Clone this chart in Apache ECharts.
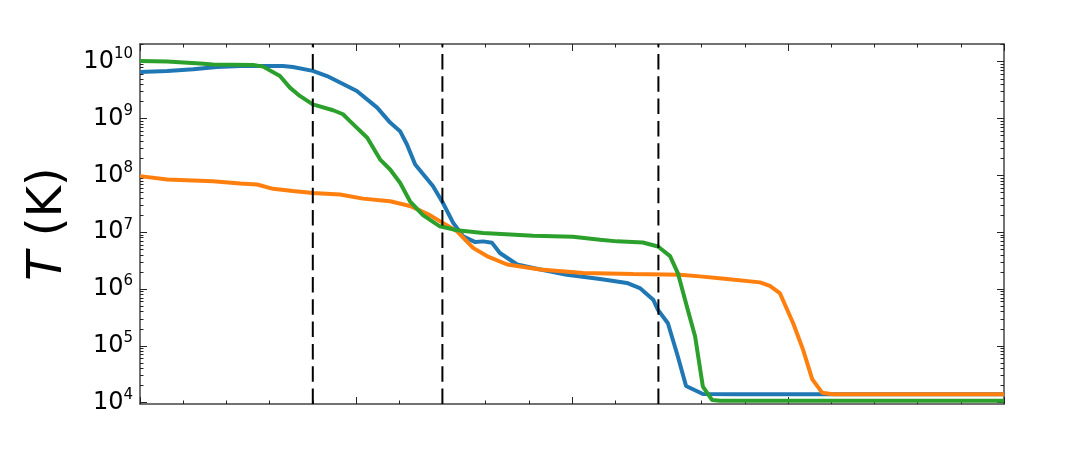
<!DOCTYPE html>
<html>
<head>
<meta charset="utf-8">
<script src="https://cdn.jsdelivr.net/npm/echarts@6/dist/echarts.min.js"></script>
<style>
html, body { margin: 0; padding: 0; background: #fff; }
#chart { width: 1080px; height: 450px; }
</style>
</head>
<body>
<div id="chart"></div>
<script>
// x position (arbitrary units, axis has no labels) and temperature in K
var blueX = [0, 0.63, 1.23, 1.78, 2.32, 3.31, 3.54, 4.0, 4.33, 4.63, 5.02, 5.49, 5.79, 6.02, 6.18, 6.37, 6.78, 7.01, 7.25, 7.48, 7.76, 7.94, 8.15, 8.33, 8.73, 9.1, 9.88, 10.65, 11.27, 11.57, 11.88, 11.99, 12.22, 12.45, 12.64, 13.03, 13.73, 20];
var blueT = [6.6e9, 6.9e9, 7.4e9, 8.1e9, 8.4e9, 8.4e9, 8.1e9, 6.9e9, 5.6e9, 4.3e9, 3.05e9, 1.56e9, 8.5e8, 6.0e8, 3.5e8, 1.56e8, 6.5e7, 3.3e7, 1.46e7, 8.5e6, 6.7e6, 6.9e6, 6.5e6, 4.3e6, 2.7e6, 2.35e6, 1.79e6, 1.5e6, 1.28e6, 1.04e6, 6.5e5, 4.3e5, 2.5e5, 6.5e4, 1.97e4, 1.42e4, 1.41e4, 1.41e4];

var orangeX = [0, 0.63, 1.69, 2.32, 2.71, 3.08, 3.54, 4.0, 4.63, 5.16, 5.79, 6.25, 6.71, 7.01, 7.34, 7.71, 8.03, 8.5, 9.26, 10.26, 11.41, 12.5, 12.96, 13.59, 14.35, 14.58, 14.81, 15.12, 15.35, 15.56, 15.79, 16.04, 20];
var orangeT = [9.7e7, 8.5e7, 7.9e7, 7.2e7, 6.9e7, 5.8e7, 5.3e7, 4.9e7, 4.6e7, 3.9e7, 3.5e7, 2.9e7, 2.0e7, 1.46e7, 1.04e7, 5.3e6, 3.8e6, 2.7e6, 2.2e6, 1.91e6, 1.84e6, 1.79e6, 1.67e6, 1.5e6, 1.31e6, 1.14e6, 8.5e5, 2.5e5, 8.5e4, 2.6e4, 1.5e4, 1.41e4, 1.41e4];

var greenX = [0, 0.63, 1.39, 1.69, 2.62, 2.85, 3.24, 3.47, 3.7, 4.0, 4.47, 4.7, 4.86, 5.26, 5.56, 5.79, 6.02, 6.25, 6.55, 6.94, 7.34, 7.94, 9.1, 10.02, 10.65, 11.04, 11.64, 11.99, 12.27, 12.45, 12.66, 12.85, 13.03, 13.24, 13.43, 20];
var greenT = [1.03e10, 1.01e10, 9.3e9, 8.9e9, 8.8e9, 8.2e9, 5.6e9, 3.5e9, 2.5e9, 1.78e9, 1.4e9, 1.19e9, 9.0e8, 4.6e8, 1.9e8, 1.27e8, 7.4e7, 3.5e7, 2.0e7, 1.27e7, 1.08e7, 9.7e6, 8.7e6, 8.3e6, 7.4e6, 6.9e6, 6.6e6, 5.6e6, 3.8e6, 1.91e6, 4.9e5, 1.46e5, 1.91e4, 1.12e4, 1.08e4, 1.08e4];

// vertical dashed markers
var dividerX = [4, 7, 12];

// y tick labels: 10^n
var yExponents = [4, 5, 6, 7, 8, 9, 10];

var font = 'DejaVu Sans';
var yMin = 3.977, yMax = 10.312;   // log10 of axis limits

var minorY = [];
for (var n = 3; n <= 10; n++) {
    for (var k = 2; k <= 9; k++) {
        var v = n + Math.log10(k);
        if (v > yMin && v < yMax) minorY.push(v);
    }
}

function pairs(xs, ts) {
    return xs.map(function (x, i) { return [x, Math.log10(ts[i])]; });
}

var spine = { color: '#444', width: 1.5 };
var tickStyle = { color: '#222', width: 1 };

function xAxis(pos) {
    return {
        type: 'value', position: pos, min: 0, max: 20, interval: 5,
        axisLine: { show: true, onZero: false, lineStyle: spine },
        axisTick: { show: true, inside: true, length: 7, lineStyle: tickStyle },
        minorTick: { show: true, splitNumber: 5, length: 3.5, lineStyle: tickStyle },
        axisLabel: { show: false },
        splitLine: { show: false }, minorSplitLine: { show: false }
    };
}

function yAxis(pos, values, len, withLine) {
    return {
        type: 'value', position: pos, min: yMin, max: yMax,
        axisLine: { show: withLine, onZero: false, lineStyle: spine },
        axisTick: { show: true, inside: true, length: len, customValues: values, lineStyle: tickStyle },
        axisLabel: { show: false },
        splitLine: { show: false }
    };
}

var leftMain = yAxis('left', yExponents, 7, true);
leftMain.axisLabel = {
    show: true, customValues: yExponents, margin: 7,
    formatter: function (v) { return '{b|10}{s|' + Math.round(v) + '}'; },
    rich: {
        b: { fontFamily: font, fontSize: 24, color: '#000', lineHeight: 30 },
        s: { fontFamily: font, fontSize: 15, color: '#000', lineHeight: 17, verticalAlign: 'top' }
    }
};
leftMain.name = '{i|T} (K)';
leftMain.nameLocation = 'middle';
leftMain.nameRotate = 90;
leftMain.nameGap = 66;
leftMain.nameTextStyle = {
    fontFamily: font, fontSize: 48, color: '#000',
    rich: { i: { fontFamily: font, fontSize: 48, fontStyle: 'italic', color: '#000' } }
};

var series = [
    { name: 'blue', color: '#1f77b4', data: pairs(blueX, blueT) },
    { name: 'orange', color: '#ff7f0e', data: pairs(orangeX, orangeT) },
    { name: 'green', color: '#2ca02c', data: pairs(greenX, greenT) }
].map(function (s) {
    return {
        type: 'line', name: s.name, data: s.data, showSymbol: false, symbol: 'none',
        lineStyle: { color: s.color, width: 4 }, itemStyle: { color: s.color },
        silent: true
    };
});

dividerX.forEach(function (x) {
    series.push({
        type: 'line', data: [[x, yMin], [x, yMax]], symbol: 'none', silent: true,
        lineStyle: { color: '#000', width: 2, type: [15.5, 6.8] }, z: 5
    });
});

var chart = echarts.init(document.getElementById('chart'), null, { renderer: 'canvas' });
chart.setOption({
    animation: false,
    backgroundColor: '#fff',
    grid: { left: 140, right: 76, top: 44, bottom: 46, outerBoundsMode: 'none', containLabel: false },
    xAxis: [xAxis('bottom'), xAxis('top')],
    yAxis: [leftMain, yAxis('left', minorY, 3.5, false), yAxis('right', yExponents, 7, true), yAxis('right', minorY, 3.5, false)],
    series: series
});
</script>
</body>
</html>
